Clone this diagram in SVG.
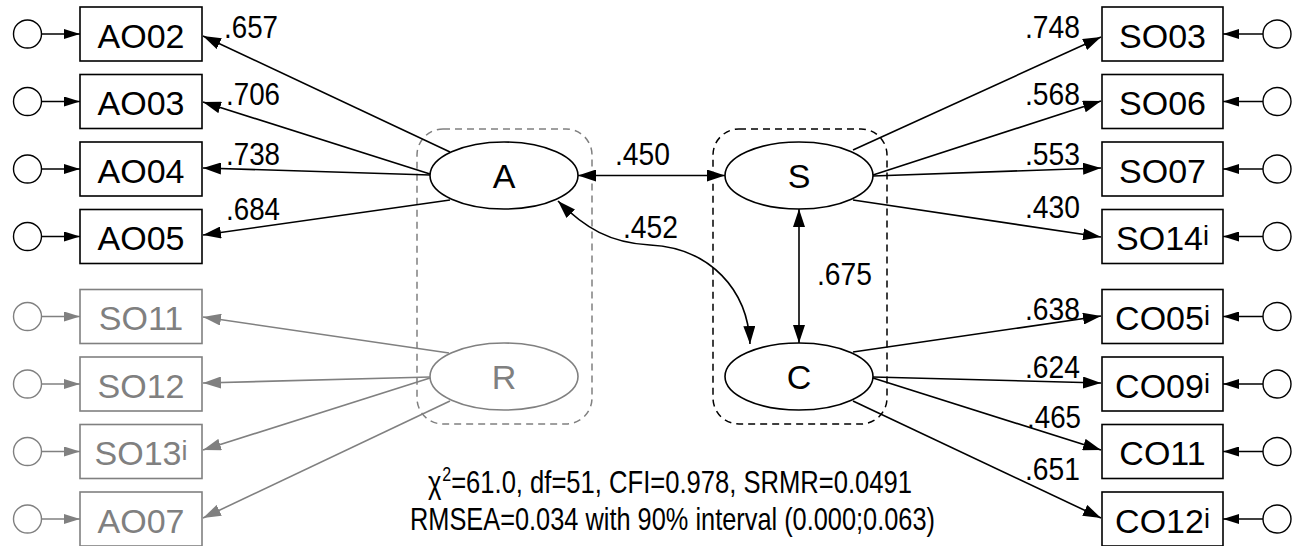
<svg xmlns="http://www.w3.org/2000/svg" width="1303" height="546" viewBox="0 0 1303 546">
<style>
  .box{fill:#fff;stroke:#000;stroke-width:1.6}
  .gbox{fill:#fff;stroke:#808080;stroke-width:1.6}
  .circ{fill:#fff;stroke:#000;stroke-width:1.4}
  .gcirc{fill:#fff;stroke:#808080;stroke-width:1.4}
  .ell{fill:#fff;stroke:#000;stroke-width:1.6}
  .gell{fill:#fff;stroke:#808080;stroke-width:1.6}
  .lbl{font-family:"Liberation Sans",Arial,sans-serif;font-size:34px;fill:#000;text-anchor:middle}
  .glbl{font-family:"Liberation Sans",Arial,sans-serif;font-size:34px;fill:#808080;text-anchor:middle}
  .num{font-family:"Liberation Sans",Arial,sans-serif;font-size:32px;fill:#000}
  .stat{font-family:"Liberation Sans",Arial,sans-serif;font-size:32px;fill:#000}
  .ln{fill:none;stroke:#000;stroke-width:1.6}
  .gln{fill:none;stroke:#808080;stroke-width:1.6}
  .sup{font-size:27px}
</style>
<defs>
  <marker id="ah" viewBox="0 0 18 12" refX="18" refY="6" markerWidth="18" markerHeight="12" orient="auto-start-reverse" markerUnits="userSpaceOnUse"><path d="M0,0 L18,6 L0,12 z" fill="#000"/></marker>
  <marker id="gah" viewBox="0 0 18 12" refX="18" refY="6" markerWidth="18" markerHeight="12" orient="auto-start-reverse" markerUnits="userSpaceOnUse"><path d="M0,0 L18,6 L0,12 z" fill="#808080"/></marker>
  <marker id="sah" viewBox="0 0 16 10" refX="16" refY="5" markerWidth="16" markerHeight="10" orient="auto" markerUnits="userSpaceOnUse"><path d="M0,0 L16,5 L0,10 z" fill="#000"/></marker>
  <marker id="gsah" viewBox="0 0 16 10" refX="16" refY="5" markerWidth="16" markerHeight="10" orient="auto" markerUnits="userSpaceOnUse"><path d="M0,0 L16,5 L0,10 z" fill="#808080"/></marker>
</defs>

<!-- group frames -->
<rect x="417" y="129" width="175" height="295" rx="26" fill="none" stroke="#808080" stroke-width="1.5" stroke-dasharray="7,5"/>
<rect x="713" y="129" width="174" height="295" rx="26" fill="none" stroke="#000" stroke-width="1.5" stroke-dasharray="7,5"/>

<g id="connectors">
  <!-- error arrows left -->
  <line class="ln" x1="41.5" y1="34" x2="80" y2="34" marker-end="url(#sah)"/>
  <line class="ln" x1="41.5" y1="101.5" x2="80" y2="101.5" marker-end="url(#sah)"/>
  <line class="ln" x1="41.5" y1="169" x2="80" y2="169" marker-end="url(#sah)"/>
  <line class="ln" x1="41.5" y1="236.5" x2="80" y2="236.5" marker-end="url(#sah)"/>
  <line class="gln" x1="41.5" y1="316.5" x2="80" y2="316.5" marker-end="url(#gsah)"/>
  <line class="gln" x1="41.5" y1="384" x2="80" y2="384" marker-end="url(#gsah)"/>
  <line class="gln" x1="41.5" y1="451.5" x2="80" y2="451.5" marker-end="url(#gsah)"/>
  <line class="gln" x1="41.5" y1="519" x2="80" y2="519" marker-end="url(#gsah)"/>
  <!-- error arrows right -->
  <line class="ln" x1="1263" y1="34" x2="1223" y2="34" marker-end="url(#sah)"/>
  <line class="ln" x1="1263" y1="101.5" x2="1223" y2="101.5" marker-end="url(#sah)"/>
  <line class="ln" x1="1263" y1="169" x2="1223" y2="169" marker-end="url(#sah)"/>
  <line class="ln" x1="1263" y1="236.5" x2="1223" y2="236.5" marker-end="url(#sah)"/>
  <line class="ln" x1="1263" y1="316.5" x2="1223" y2="316.5" marker-end="url(#sah)"/>
  <line class="ln" x1="1263" y1="384" x2="1223" y2="384" marker-end="url(#sah)"/>
  <line class="ln" x1="1263" y1="451.5" x2="1223" y2="451.5" marker-end="url(#sah)"/>
  <line class="ln" x1="1263" y1="519" x2="1223" y2="519" marker-end="url(#sah)"/>
  <!-- A loadings -->
  <line class="ln" x1="450" y1="152" x2="203" y2="36" marker-end="url(#ah)"/>
  <line class="ln" x1="430" y1="174" x2="203" y2="102" marker-end="url(#ah)"/>
  <line class="ln" x1="430" y1="175" x2="203" y2="168" marker-end="url(#ah)"/>
  <line class="ln" x1="450" y1="200" x2="203" y2="235" marker-end="url(#ah)"/>
  <!-- R loadings -->
  <line class="gln" x1="449" y1="353" x2="203" y2="317" marker-end="url(#gah)"/>
  <line class="gln" x1="430" y1="377" x2="203" y2="383" marker-end="url(#gah)"/>
  <line class="gln" x1="430" y1="378" x2="203" y2="450" marker-end="url(#gah)"/>
  <line class="gln" x1="450" y1="401" x2="203" y2="518" marker-end="url(#gah)"/>
  <!-- S loadings -->
  <line class="ln" x1="853" y1="150" x2="1101" y2="37" marker-end="url(#ah)"/>
  <line class="ln" x1="873" y1="175" x2="1101" y2="101" marker-end="url(#ah)"/>
  <line class="ln" x1="873" y1="176" x2="1101" y2="168" marker-end="url(#ah)"/>
  <line class="ln" x1="853" y1="200" x2="1101" y2="237" marker-end="url(#ah)"/>
  <!-- C loadings -->
  <line class="ln" x1="853" y1="352" x2="1101" y2="316" marker-end="url(#ah)"/>
  <line class="ln" x1="873" y1="377" x2="1101" y2="383" marker-end="url(#ah)"/>
  <line class="ln" x1="873" y1="378" x2="1101" y2="450" marker-end="url(#ah)"/>
  <line class="ln" x1="853" y1="401" x2="1101" y2="518" marker-end="url(#ah)"/>
  <!-- correlations -->
  <line class="ln" x1="578" y1="175.5" x2="725" y2="175.5" marker-start="url(#ah)" marker-end="url(#ah)"/>
  <line class="ln" x1="799" y1="209" x2="799" y2="343" marker-start="url(#ah)" marker-end="url(#ah)"/>
  <path class="ln" d="M558,201 C585,228 610,243 650,245 C710,248 748,290 750,344" marker-start="url(#ah)" marker-end="url(#ah)"/>
</g>

<!-- coefficient labels -->
<g id="coefficients">
  <text class="num" x="224" y="38" textLength="54" lengthAdjust="spacingAndGlyphs">.657</text>
  <text class="num" x="226" y="105" textLength="54" lengthAdjust="spacingAndGlyphs">.706</text>
  <text class="num" x="226" y="165" textLength="54" lengthAdjust="spacingAndGlyphs">.738</text>
  <text class="num" x="226" y="220" textLength="54" lengthAdjust="spacingAndGlyphs">.684</text>
  <text class="num" x="1025" y="38" textLength="55" lengthAdjust="spacingAndGlyphs">.748</text>
  <text class="num" x="1025" y="105" textLength="55" lengthAdjust="spacingAndGlyphs">.568</text>
  <text class="num" x="1025" y="165" textLength="55" lengthAdjust="spacingAndGlyphs">.553</text>
  <text class="num" x="1025" y="218" textLength="55" lengthAdjust="spacingAndGlyphs">.430</text>
  <text class="num" x="1025" y="320" textLength="55" lengthAdjust="spacingAndGlyphs">.638</text>
  <text class="num" x="1025" y="378" textLength="55" lengthAdjust="spacingAndGlyphs">.624</text>
  <text class="num" x="1027" y="428" textLength="54" lengthAdjust="spacingAndGlyphs">.465</text>
  <text class="num" x="1025" y="480" textLength="55" lengthAdjust="spacingAndGlyphs">.651</text>
  <text class="num" x="615" y="165" textLength="55" lengthAdjust="spacingAndGlyphs">.450</text>
  <text class="num" x="623" y="238" textLength="55" lengthAdjust="spacingAndGlyphs">.452</text>
  <text class="num" x="817" y="285" textLength="55" lengthAdjust="spacingAndGlyphs">.675</text>
</g>

<!-- left indicators -->
<g id="AO02"><circle class="circ" cx="27.5" cy="34" r="14"/><rect class="box" x="80" y="7" width="122" height="54"/><text class="lbl" x="141" y="47.5">AO02</text></g>
<g id="AO03"><circle class="circ" cx="27.5" cy="101.5" r="14"/><rect class="box" x="80" y="74.5" width="122" height="54"/><text class="lbl" x="141" y="115">AO03</text></g>
<g id="AO04"><circle class="circ" cx="27.5" cy="169" r="14"/><rect class="box" x="80" y="142" width="122" height="54"/><text class="lbl" x="141" y="182.5">AO04</text></g>
<g id="AO05"><circle class="circ" cx="27.5" cy="236.5" r="14"/><rect class="box" x="80" y="209.5" width="122" height="54"/><text class="lbl" x="141" y="250">AO05</text></g>
<g id="SO11"><circle class="gcirc" cx="27.5" cy="316.5" r="14"/><rect class="gbox" x="80" y="289.5" width="122" height="54"/><text class="glbl" x="141" y="330">SO11</text></g>
<g id="SO12"><circle class="gcirc" cx="27.5" cy="384" r="14"/><rect class="gbox" x="80" y="357" width="122" height="54"/><text class="glbl" x="141" y="397.5">SO12</text></g>
<g id="SO13"><circle class="gcirc" cx="27.5" cy="451.5" r="14"/><rect class="gbox" x="80" y="424.5" width="122" height="54"/><text class="glbl" x="141" y="465">SO13<tspan class="sup" dy="-5">i</tspan></text></g>
<g id="AO07"><circle class="gcirc" cx="27.5" cy="519" r="14"/><rect class="gbox" x="80" y="492" width="122" height="54"/><text class="glbl" x="141" y="532.5">AO07</text></g>

<!-- right indicators -->
<g id="SO03"><rect class="box" x="1102" y="7" width="121" height="54"/><circle class="circ" cx="1277" cy="34" r="14"/><text class="lbl" x="1162.5" y="47.5">SO03</text></g>
<g id="SO06"><rect class="box" x="1102" y="74.5" width="121" height="54"/><circle class="circ" cx="1277" cy="101.5" r="14"/><text class="lbl" x="1162.5" y="115">SO06</text></g>
<g id="SO07"><rect class="box" x="1102" y="142" width="121" height="54"/><circle class="circ" cx="1277" cy="169" r="14"/><text class="lbl" x="1162.5" y="182.5">SO07</text></g>
<g id="SO14"><rect class="box" x="1102" y="209.5" width="121" height="54"/><circle class="circ" cx="1277" cy="236.5" r="14"/><text class="lbl" x="1162.5" y="250">SO14<tspan class="sup" dy="-5">i</tspan></text></g>
<g id="CO05"><rect class="box" x="1102" y="289.5" width="121" height="54"/><circle class="circ" cx="1277" cy="316.5" r="14"/><text class="lbl" x="1162.5" y="330">CO05<tspan class="sup" dy="-5">i</tspan></text></g>
<g id="CO09"><rect class="box" x="1102" y="357" width="121" height="54"/><circle class="circ" cx="1277" cy="384" r="14"/><text class="lbl" x="1162.5" y="397.5">CO09<tspan class="sup" dy="-5">i</tspan></text></g>
<g id="CO11"><rect class="box" x="1102" y="424.5" width="121" height="54"/><circle class="circ" cx="1277" cy="451.5" r="14"/><text class="lbl" x="1162.5" y="465">CO11</text></g>
<g id="CO12"><rect class="box" x="1102" y="492" width="121" height="54"/><circle class="circ" cx="1277" cy="519" r="14"/><text class="lbl" x="1162.5" y="532.5">CO12<tspan class="sup" dy="-5">i</tspan></text></g>

<!-- latent factors -->
<g id="A"><ellipse class="ell" cx="504" cy="175.5" rx="74" ry="33.5"/><text class="lbl" x="504" y="188">A</text></g>
<g id="R"><ellipse class="gell" cx="504" cy="376.5" rx="74" ry="33.5"/><text class="glbl" x="504" y="389">R</text></g>
<g id="S"><ellipse class="ell" cx="799" cy="175.5" rx="74" ry="33.5"/><text class="lbl" x="799" y="188">S</text></g>
<g id="C"><ellipse class="ell" cx="799" cy="376.5" rx="74" ry="33.5"/><text class="lbl" x="799" y="389">C</text></g>

<!-- fit statistics -->
<g id="fit">
  <text class="stat" x="428" y="493" textLength="484" lengthAdjust="spacingAndGlyphs">χ<tspan font-size="20" dx="1" dy="-12">2</tspan><tspan dy="12">=61.0, df=51, CFI=0.978, SRMR=0.0491</tspan></text>
  <text class="stat" x="410" y="530" textLength="525" lengthAdjust="spacingAndGlyphs">RMSEA=0.034 with 90% interval (0.000;0.063)</text>
</g>
</svg>
